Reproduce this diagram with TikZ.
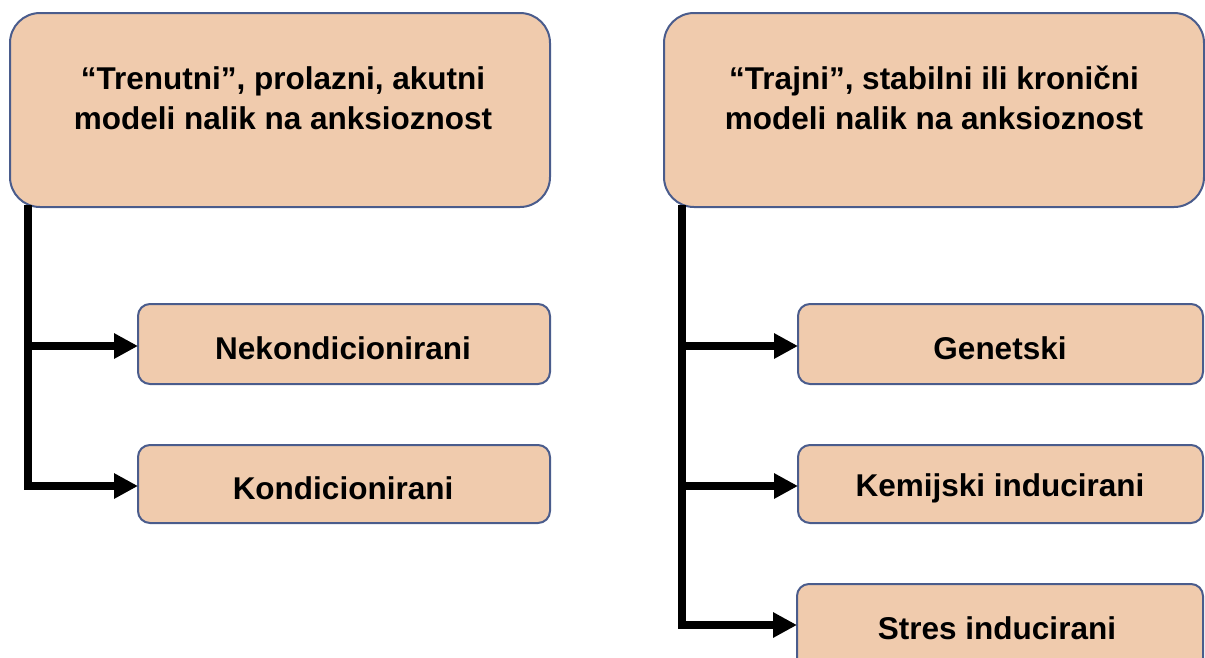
\documentclass[tikz,border=0pt]{standalone}
\usepackage{fontspec}
\setmainfont{Liberation Sans}
\usetikzlibrary{arrows.meta}
\definecolor{boxfill}{HTML}{F0CBAD}
\definecolor{boxline}{HTML}{4A5C8C}
\begin{document}
\begin{tikzpicture}[x=1pt,y=-1pt,
  bigbox/.style={draw=boxline,fill=boxfill,line width=2pt,rounded corners=30pt},
  smallbox/.style={draw=boxline,fill=boxfill,line width=2pt,rounded corners=12pt},
  lbl/.style={font=\fontsize{31.5}{40}\selectfont\bfseries,align=center,inner sep=0pt},
  conn/.style={line width=8pt,-{Triangle[length=24pt,width=24pt]}},
  trunk/.style={line width=8pt}]
\useasboundingbox (0,0) rectangle (1205,657);
\clip (0,0) rectangle (1205,657);
% big boxes
\draw[bigbox] (10,13) rectangle (550,207);
\node[lbl] (T1) at (283,98) {“Trenutni”, prolazni, akutni\\modeli nalik na anksioznost};
\draw[bigbox] (664,13) rectangle (1204,207);
\node[lbl] (T2) at (934,98) {“Trajni”, stabilni ili kronični\\modeli nalik na anksioznost};
% small boxes left
\draw[smallbox] (138,304) rectangle (550,384);
\node[lbl] (N1) at (343,348) {Nekondicionirani};
\draw[smallbox] (138,445) rectangle (550,523);
\node[lbl] (K1) at (343,488) {Kondicionirani};
% small boxes right
\draw[smallbox] (798,304) rectangle (1203,384);
\node[lbl] (G2) at (1000,348) {Genetski};
\draw[smallbox] (798,445) rectangle (1203,523);
\node[lbl] (K2) at (1000,488) {Kemijski inducirani};
\draw[smallbox] (797,584) rectangle (1203,670);
\node[lbl] (S2) at (997,628) {Stres inducirani};
% anchor coordinates
\coordinate (v1) at (28,205);
\coordinate (n1) at (138,346);
\coordinate (k1) at (138,486);
\coordinate (v2) at (682,205);
\coordinate (g2) at (798,346);
\coordinate (k2) at (798,486);
\coordinate (s2) at (797,625);
% connectors
\draw[trunk] (v1) -- (v1 |- k1);
\draw[conn] (v1 |- n1) -- (n1);
\draw[conn] ([xshift=-4pt]v1 |- k1) -- (k1);
\draw[trunk] (v2) -- (v2 |- s2);
\draw[conn] (v2 |- g2) -- (g2);
\draw[conn] (v2 |- k2) -- (k2);
\draw[conn] ([xshift=-4pt]v2 |- s2) -- (s2);
\end{tikzpicture}
\end{document}
